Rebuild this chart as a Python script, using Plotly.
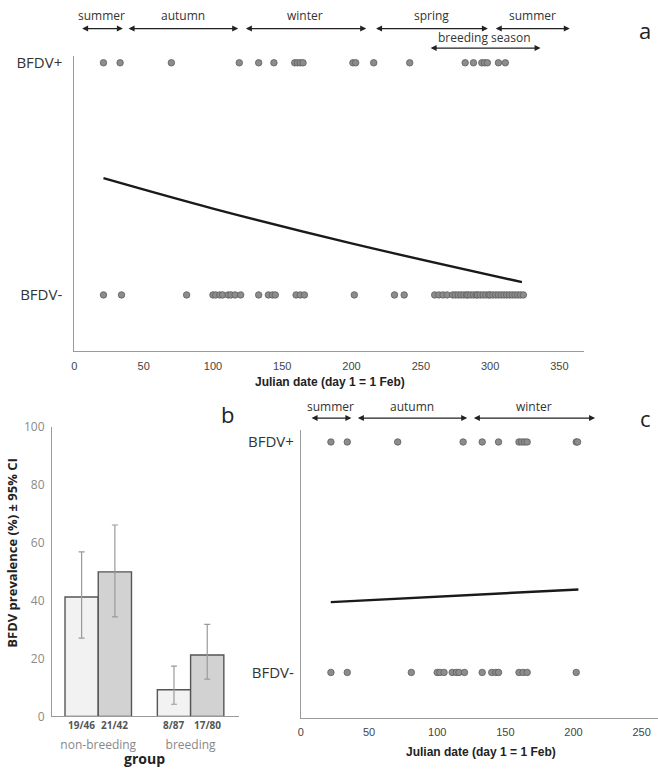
import plotly.graph_objects as go

W, H = 658, 773


def px(x):
    return x / W


def py(y):
    return 1 - y / H


# ---------------- data ----------------
# panel a: all samples, Julian day of capture
pos_a = [21, 33, 70, 119, 133, 144, 159, 161, 163, 165, 201, 203, 216, 242,
         282, 288, 294, 296, 298, 306, 311]
neg_a = [21, 34, 81, 100, 102, 105, 107, 111, 113, 116, 120, 133, 140, 143,
         145, 160, 163, 166, 202, 231, 238, 260, 263, 266, 269, 273, 275, 277,
         279, 281, 283, 284, 286, 288, 290, 291, 293, 295, 297, 299, 300, 302,
         304, 306, 308, 310, 312, 314, 316, 318, 320, 322, 324]
line_a_day = [21, 100, 200, 323]
line_a_prob = [0.503, 0.372, 0.222, 0.055]

seasons_a = ["summer", "autumn", "winter", "spring", "summer"]
season_a_start = [4.5, 38, 122.7, 216.6, 303]
season_a_end = [35, 118.2, 210.6, 298.4, 357.5]
breeding_label = "breeding season"
breeding_start = 256
breeding_end = 336.4

# panel b: prevalence by group
groups = ["non-breeding", "breeding"]
fractions_s1 = ["19/46", "8/87"]
fractions_s2 = ["21/42", "17/80"]
prev_s1 = [41.3, 9.2]
prev_s1_lo = [27.1, 4.2]
prev_s1_hi = [56.9, 17.4]
prev_s2 = [50.0, 21.25]
prev_s2_lo = [34.4, 12.9]
prev_s2_hi = [66.2, 31.8]
prev_ticks = [0, 20, 40, 60, 80, 100]

# panel c: non-breeding samples
pos_c = [22, 34, 71, 119, 133, 145, 160, 162, 164, 166, 202, 203]
neg_c = [22, 34, 81, 100, 102, 105, 111, 114, 116, 120, 133, 140, 143, 145,
         160, 163, 166, 202]
line_c_day = [21.9, 203.6]
line_c_prob = [0.305, 0.36]

seasons_c = ["summer", "autumn", "winter"]
season_c_start = [6.7, 40.7, 125.8]
season_c_end = [37, 122, 215.8]

status_ticks = [0, 1]
status_labels = ["BFDV-", "BFDV+"]

# ---------------- styles ----------------
DOT = dict(size=6.5, color="#8c8c8c", line=dict(color="#5e5e5e", width=0.8))
AXC = "#9a9a9a"
TXT = "#333333"
NUMFONT = dict(family="Liberation Sans, Arial", size=11, color="#444444")
LBLFONT = dict(family="Open Sans", size=15, color=TXT)

fig = go.Figure()

# panel a
fig.add_trace(go.Scatter(x=pos_a, y=[1] * len(pos_a), mode="markers", marker=DOT,
                         xaxis="x", yaxis="y", showlegend=False))
fig.add_trace(go.Scatter(x=neg_a, y=[0] * len(neg_a), mode="markers", marker=DOT,
                         xaxis="x", yaxis="y", showlegend=False))
fig.add_trace(go.Scatter(x=line_a_day, y=line_a_prob, mode="lines",
                         line=dict(color="#1a1a1a", width=2.4, shape="spline"),
                         xaxis="x", yaxis="y", showlegend=False))

# panel b
fig.add_trace(go.Bar(x=groups, y=prev_s1, xaxis="x2", yaxis="y2", showlegend=False,
                     marker=dict(color="#f2f2f2", line=dict(color="#555555", width=1.4)),
                     error_y=dict(type="data", symmetric=False,
                                  array=[h - v for h, v in zip(prev_s1_hi, prev_s1)],
                                  arrayminus=[v - l for v, l in zip(prev_s1, prev_s1_lo)],
                                  color="#9a9a9a", thickness=1.2, width=3)))
fig.add_trace(go.Bar(x=groups, y=prev_s2, xaxis="x2", yaxis="y2", showlegend=False,
                     marker=dict(color="#d2d2d2", line=dict(color="#555555", width=1.4)),
                     error_y=dict(type="data", symmetric=False,
                                  array=[h - v for h, v in zip(prev_s2_hi, prev_s2)],
                                  arrayminus=[v - l for v, l in zip(prev_s2, prev_s2_lo)],
                                  color="#9a9a9a", thickness=1.2, width=3)))

# panel c
fig.add_trace(go.Scatter(x=pos_c, y=[1] * len(pos_c), mode="markers", marker=DOT,
                         xaxis="x3", yaxis="y3", showlegend=False))
fig.add_trace(go.Scatter(x=neg_c, y=[0] * len(neg_c), mode="markers", marker=DOT,
                         xaxis="x3", yaxis="y3", showlegend=False))
fig.add_trace(go.Scatter(x=line_c_day, y=line_c_prob, mode="lines",
                         line=dict(color="#1a1a1a", width=2.4),
                         xaxis="x3", yaxis="y3", showlegend=False))

annotations = []


def season_arrows(names, starts, ends, xref, y_arrow, y_label):
    for n, s, e in zip(names, starts, ends):
        annotations.append(dict(x=e, y=py(y_arrow), xref=xref, yref="paper",
                                ax=s, ay=0, axref=xref, ayref="pixel", text="",
                                showarrow=True, arrowside="end+start", arrowhead=2,
                                startarrowhead=2, arrowsize=1, startarrowsize=1,
                                arrowwidth=1.2, arrowcolor="#222222",
                                standoff=0, startstandoff=0))
        annotations.append(dict(x=(s + e) / 2, y=py(y_label), xref=xref, yref="paper",
                                text=n, showarrow=False, xanchor="center", yanchor="middle",
                                font=dict(family="Open Sans", size=12, color=TXT)))


season_arrows(seasons_a, season_a_start, season_a_end, "x", 20, 7)
season_arrows([breeding_label], [breeding_start], [breeding_end], "x", 40, 29)
season_arrows(seasons_c, season_c_start, season_c_end, "x3", 418.3, 406)


def label(text, x, y, font, angle=0):
    annotations.append(dict(x=px(x), y=py(y), xref="paper", yref="paper", text=text,
                            showarrow=False, xanchor="center", yanchor="middle",
                            textangle=angle, font=font))


# panel letters
for letter, x, y in [("a", 645, 21), ("b", 226, 414), ("c", 645, 418)]:
    label(letter, x, y, dict(family="Open Sans", size=22, color="#222222"))

# axis titles
TITLEFONT = dict(family="Liberation Sans, Arial", size=12, color="#222222")
label("<b>Julian date (day 1 = 1 Feb)</b>", 328, 381, TITLEFONT)
label("<b>Julian date (day 1 = 1 Feb)</b>", 480, 760, TITLEFONT)
label("<b>group</b>", 142, 766, dict(family="Open Sans", size=14, color="#222222"))
label("<b>BFDV prevalence (%) ± 95% CI</b>", 9, 556,
      dict(family="Open Sans", size=13, color="#222222"), angle=-90)

# panel b fraction labels under each bar
for g, f1, f2 in zip(groups, fractions_s1, fractions_s2):
    for f, shift in [(f1, -16.6), (f2, 16.6)]:
        annotations.append(dict(x=g, y=py(732.5), xref="x2", yref="paper", text="<b>" + f + "</b>",
                                xshift=shift, showarrow=False, xanchor="center", yanchor="middle",
                                font=dict(family="Open Sans", size=10, color="#555555")))

fig.update_layout(
    width=W, height=H, margin=dict(l=0, r=0, t=0, b=0),
    paper_bgcolor="white", plot_bgcolor="white",
    barmode="group", bargap=0.28, bargroupgap=0,
    annotations=annotations,
    xaxis=dict(domain=[px(71.7), px(584)], range=[0, 368], tickvals=[0, 50, 100, 150, 200, 250, 300, 350],
               showgrid=False, zeroline=False, showline=True, linecolor=AXC, linewidth=1.2,
               ticks="", tickfont=NUMFONT, ticklabelstandoff=5, anchor="y"),
    yaxis=dict(domain=[py(349.3), py(48)], range=[-0.240, 1.0295], tickvals=status_ticks,
               ticktext=status_labels, showgrid=False, zeroline=False, showline=True,
               linecolor=AXC, linewidth=1.2, ticks="", tickfont=LBLFONT,
               ticklabelstandoff=8, anchor="x"),
    xaxis2=dict(domain=[px(49.3), px(236.7)], range=[-0.5, 1.52], showgrid=False, zeroline=False,
                showline=True, linecolor=AXC, linewidth=1.2, ticks="",
                tickfont=dict(family="Open Sans", size=12, color="#888888"),
                ticklabelstandoff=17, anchor="y2"),
    yaxis2=dict(domain=[py(723.3), py(427.7)], range=[0, 100], tickvals=prev_ticks,
                showgrid=False, zeroline=False, showline=True, linecolor=AXC, linewidth=1.2,
                ticks="", tickfont=dict(family="Open Sans", size=12, color="#8a8a8a"),
                ticklabelstandoff=4, anchor="x2"),
    xaxis3=dict(domain=[px(299.3), 1.0], range=[0, 262], tickvals=[0, 50, 100, 150, 200, 250],
                showgrid=False, zeroline=False, showline=True, linecolor=AXC, linewidth=1.2,
                ticks="", tickfont=NUMFONT, ticklabelstandoff=4, anchor="y3"),
    yaxis3=dict(domain=[py(725), py(430)], range=[-0.198, 1.054], tickvals=status_ticks,
                ticktext=status_labels, showgrid=False, zeroline=False, showline=True,
                linecolor=AXC, linewidth=1.2, ticks="", tickfont=LBLFONT,
                ticklabelstandoff=3, anchor="x3"),
)

fig.write_html("out.html", config={"displayModeBar": False},
               post_script="document.body.style.margin='0';"
                           "document.documentElement.style.overflow='hidden';")
